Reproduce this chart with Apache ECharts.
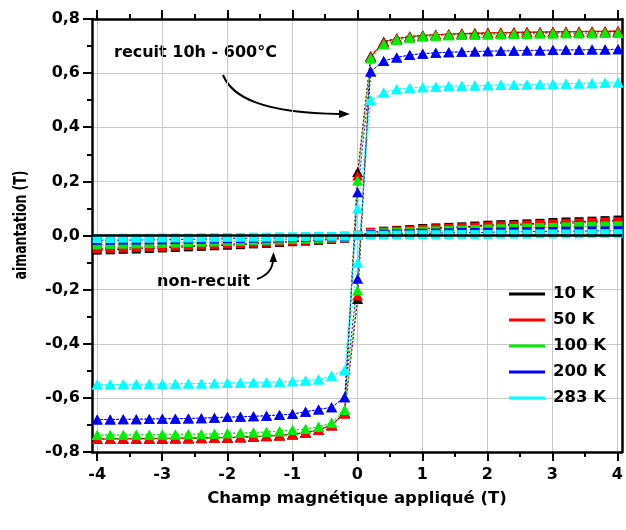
<!DOCTYPE html>
<html>
<head>
<meta charset="utf-8">
<script src="https://cdn.jsdelivr.net/npm/echarts@6/dist/echarts.min.js"></script>
<style>html,body{margin:0;padding:0;background:#fff}#c{width:626px;height:530px}</style>
</head>
<body>
<div id="c"></div>
<script>
// ---- data ----
const temps = ['10 K', '50 K', '100 K', '200 K', '283 K'];
const xNeg = [-4, -3.8, -3.6, -3.4, -3.2, -3, -2.8, -2.6, -2.4, -2.2, -2, -1.8, -1.6, -1.4, -1.2, -1, -0.8, -0.6, -0.4, -0.2];
const xPos = [0.2, 0.4, 0.6, 0.8, 1, 1.2, 1.4, 1.6, 1.8, 2, 2.2, 2.4, 2.6, 2.8, 3, 3.2, 3.4, 3.6, 3.8, 4];
const xTicks = [-4, -3, -2, -1, 0, 1, 2, 3, 4];

// annealed ("recuit 10h - 600°C"): negative-field branch, remanence at 0 T, positive-field branch
const recuitNeg10 = [-0.752, -0.752, -0.751, -0.751, -0.750, -0.750, -0.749, -0.749, -0.748, -0.747, -0.746, -0.745, -0.743, -0.741, -0.738, -0.734, -0.728, -0.718, -0.700, -0.655];
const recuitPos10 = [0.662, 0.716, 0.728, 0.735, 0.739, 0.742, 0.744, 0.746, 0.747, 0.748, 0.749, 0.750, 0.751, 0.751, 0.752, 0.752, 0.753, 0.753, 0.754, 0.754];
const recuitNeg50 = [-0.752, -0.752, -0.751, -0.751, -0.751, -0.750, -0.750, -0.749, -0.749, -0.748, -0.747, -0.746, -0.744, -0.742, -0.739, -0.735, -0.729, -0.719, -0.702, -0.658];
const recuitPos50 = [0.660, 0.714, 0.727, 0.735, 0.739, 0.742, 0.744, 0.746, 0.748, 0.749, 0.750, 0.751, 0.752, 0.752, 0.753, 0.754, 0.754, 0.755, 0.755, 0.756];
const recuitNeg100 = [-0.737, -0.737, -0.737, -0.736, -0.736, -0.735, -0.735, -0.734, -0.734, -0.733, -0.731, -0.730, -0.728, -0.726, -0.723, -0.719, -0.715, -0.707, -0.692, -0.645];
const recuitPos100 = [0.655, 0.707, 0.722, 0.731, 0.735, 0.738, 0.740, 0.741, 0.742, 0.743, 0.744, 0.745, 0.745, 0.746, 0.746, 0.747, 0.747, 0.747, 0.748, 0.748];
const recuitNeg200 = [-0.680, -0.680, -0.679, -0.679, -0.678, -0.677, -0.677, -0.676, -0.675, -0.673, -0.671, -0.670, -0.668, -0.666, -0.663, -0.660, -0.651, -0.643, -0.635, -0.598];
const recuitPos200 = [0.606, 0.645, 0.658, 0.667, 0.672, 0.675, 0.677, 0.679, 0.680, 0.681, 0.682, 0.683, 0.684, 0.684, 0.685, 0.686, 0.686, 0.687, 0.687, 0.688];
const recuitNeg283 = [-0.551, -0.551, -0.550, -0.550, -0.549, -0.549, -0.548, -0.547, -0.547, -0.546, -0.545, -0.544, -0.543, -0.542, -0.541, -0.539, -0.536, -0.532, -0.518, -0.498];
const recuitPos283 = [0.500, 0.528, 0.540, 0.545, 0.548, 0.550, 0.552, 0.553, 0.554, 0.555, 0.556, 0.557, 0.558, 0.559, 0.560, 0.561, 0.562, 0.563, 0.564, 0.565];
const remanence = [0.235, 0.222, 0.203, 0.160, 0.100];

// non-annealed ("non-recuit"), x = -4 ... 4 step 0.2
const nonRecuit10 = [-0.054, -0.053, -0.051, -0.050, -0.048, -0.046, -0.044, -0.042, -0.040, -0.038, -0.036, -0.034, -0.031, -0.029, -0.026, -0.023, -0.021, -0.018, -0.015, -0.010, 0.001, 0.012, 0.016, 0.019, 0.022, 0.026, 0.028, 0.030, 0.032, 0.035, 0.038, 0.040, 0.041, 0.043, 0.045, 0.048, 0.050, 0.051, 0.053, 0.055, 0.057];
const nonRecuit50 = [-0.048, -0.047, -0.046, -0.044, -0.043, -0.041, -0.039, -0.037, -0.035, -0.033, -0.031, -0.030, -0.027, -0.025, -0.023, -0.020, -0.018, -0.016, -0.013, -0.009, 0.000, 0.011, 0.014, 0.017, 0.020, 0.023, 0.025, 0.027, 0.029, 0.031, 0.034, 0.036, 0.037, 0.039, 0.041, 0.043, 0.045, 0.046, 0.048, 0.050, 0.051];
const nonRecuit100 = [-0.034, -0.033, -0.032, -0.031, -0.030, -0.029, -0.028, -0.026, -0.025, -0.024, -0.022, -0.021, -0.019, -0.018, -0.016, -0.014, -0.013, -0.011, -0.009, -0.006, 0.000, 0.007, 0.010, 0.012, 0.014, 0.016, 0.017, 0.019, 0.020, 0.022, 0.024, 0.025, 0.026, 0.028, 0.029, 0.030, 0.032, 0.033, 0.034, 0.035, 0.036];
const nonRecuit200 = [-0.018, -0.018, -0.017, -0.017, -0.016, -0.016, -0.015, -0.014, -0.014, -0.013, -0.012, -0.011, -0.010, -0.010, -0.009, -0.008, -0.007, -0.006, -0.005, -0.003, 0.000, 0.004, 0.005, 0.006, 0.007, 0.008, 0.009, 0.010, 0.011, 0.011, 0.012, 0.013, 0.014, 0.014, 0.015, 0.015, 0.016, 0.016, 0.017, 0.017, 0.018];
const nonRecuit283 = [-0.011, -0.011, -0.010, -0.010, -0.010, -0.009, -0.009, -0.009, -0.008, -0.008, -0.007, -0.007, -0.006, -0.006, -0.005, -0.005, -0.004, -0.003, -0.003, -0.002, 0.000, 0.001, 0.001, 0.002, 0.002, 0.003, 0.003, 0.003, 0.004, 0.004, 0.004, 0.005, 0.005, 0.005, 0.006, 0.006, 0.006, 0.006, 0.007, 0.007, 0.007];

// ---- build ----
const colors = ['#000000', '#ff0000', '#00ee00', '#0000ff', '#00ffff'];
const recuitNeg = [recuitNeg10, recuitNeg50, recuitNeg100, recuitNeg200, recuitNeg283];
const recuitPos = [recuitPos10, recuitPos50, recuitPos100, recuitPos200, recuitPos283];
const nonRecuit = [nonRecuit10, nonRecuit50, nonRecuit100, nonRecuit200, nonRecuit283];
const xAll = xNeg.concat([0], xPos);

function loop(i) {
  const up = xNeg.map((x, k) => [x, recuitNeg[i][k]])
    .concat([[0, -remanence[i]]])
    .concat(xPos.map((x, k) => [x, recuitPos[i][k]]));
  const down = xPos.map((x, k) => [x, recuitPos[i][k]]).reverse()
    .concat([[0, remanence[i]]])
    .concat(xNeg.map((x, k) => [x, recuitNeg[i][k]]).reverse());
  return up.concat(down);
}

const FONT = 'DejaVu Sans';
const series = [];
temps.forEach((t, i) => {
  const s = {
    name: t, type: 'line', xAxisIndex: 0, yAxisIndex: 0, z: 3,
    data: loop(i), symbol: 'triangle', symbolSize: [11, 10],
    itemStyle: { color: colors[i] },
    lineStyle: { color: colors[i], width: 1, type: [2, 2] },
    animation: false, silent: true
  };
  series.push(s);
});
temps.forEach((t, i) => {
  const s = {
    name: t, type: 'line', xAxisIndex: 0, yAxisIndex: 0, z: 4,
    data: xAll.map((x, k) => [x, nonRecuit[i][k]]),
    symbol: 'rect', symbolSize: 9,
    itemStyle: { color: colors[i] },
    lineStyle: { color: colors[i], width: 1, type: [2, 2] },
    animation: false, silent: true
  };
  series.push(s);
});
// zero reference line, drawn beneath the data
series.unshift({
  type: 'line', xAxisIndex: 0, yAxisIndex: 0, z: 1, data: [], silent: true,
  markLine: {
    silent: true, symbol: 'none', label: { show: false },
    lineStyle: { color: '#000', width: 2.5, type: 'solid' },
    data: [{ yAxis: 0 }], animation: false
  }
});

const tickLabelStyle = { fontFamily: FONT, fontWeight: 'bold', fontSize: 16, color: '#000' };
const gridLineStyle = { color: '#c8c8c8', width: 1 };
const frameLine = { show: true, lineStyle: { color: '#000', width: 2.5 } };

const option = {
  backgroundColor: '#fff',
  animation: false,
  grid: [
    { left: 92, right: 4, top: 19, bottom: 78 },
    { left: 97.2, right: 7.9, top: 19, bottom: 78 }
  ],
  xAxis: [
    { gridIndex: 0, type: 'value', min: -4.08, max: 4.06, position: 'bottom',
      axisLine: Object.assign({ onZero: false }, frameLine), axisTick: { show: false }, axisLabel: { show: false }, splitLine: { show: false } },
    { gridIndex: 0, type: 'value', min: -4.08, max: 4.06, position: 'top',
      axisLine: Object.assign({ onZero: false }, frameLine), axisTick: { show: false }, axisLabel: { show: false }, splitLine: { show: false } },
    { gridIndex: 1, type: 'value', min: xTicks[0], max: xTicks[xTicks.length - 1], interval: 1, position: 'bottom',
      axisLine: { show: false, onZero: false },
      axisTick: { show: true, inside: false, length: 9, lineStyle: { color: '#000', width: 2 } },
      minorTick: { show: true, splitNumber: 2, length: 5, lineStyle: { color: '#000', width: 2 } },
      axisLabel: Object.assign({ margin: 15 }, tickLabelStyle),
      splitLine: { show: true, lineStyle: gridLineStyle } },
    { gridIndex: 1, type: 'value', min: xTicks[0], max: xTicks[xTicks.length - 1], interval: 1, position: 'top',
      axisLine: { show: false, onZero: false },
      axisTick: { show: true, inside: false, length: 9, lineStyle: { color: '#000', width: 2 } },
      minorTick: { show: true, splitNumber: 2, length: 5, lineStyle: { color: '#000', width: 2 } },
      axisLabel: { show: false }, splitLine: { show: false } }
  ],
  yAxis: [
    { gridIndex: 0, type: 'value', min: -0.8, max: 0.8, interval: 0.2, position: 'left',
      axisLine: Object.assign({ onZero: false }, frameLine),
      axisTick: { show: true, inside: false, length: 9, lineStyle: { color: '#000', width: 2 } },
      minorTick: { show: true, splitNumber: 2, length: 5, lineStyle: { color: '#000', width: 2 } },
      axisLabel: Object.assign({ margin: 12, formatter: v => v.toFixed(1).replace('.', ',') }, tickLabelStyle),
      splitLine: { show: true, lineStyle: gridLineStyle } },
    { gridIndex: 0, type: 'value', min: -0.8, max: 0.8, position: 'right',
      axisLine: Object.assign({ onZero: false }, frameLine), axisTick: { show: false }, axisLabel: { show: false }, splitLine: { show: false } },
    { gridIndex: 1, type: 'value', min: -0.8, max: 0.8, show: false }
  ],
  legend: {
    data: temps.map(n => ({ name: n, icon: 'rect' })),
    orient: 'vertical', left: 504, top: 279,
    itemWidth: 36, itemHeight: 3, itemGap: 6,
    selectedMode: false,
    textStyle: { fontFamily: FONT, fontWeight: 'bold', fontSize: 16.5, color: '#000', lineHeight: 20, padding: [0, 0, 0, 3] }
  },
  graphic: [
    { type: 'text', x: 21, y: 225, rotation: Math.PI / 2, scaleX: 0.71, silent: true,
      style: { text: 'aimantation (T)', font: 'bold 17.5px "DejaVu Sans"', fill: '#000', align: 'center', verticalAlign: 'middle' } },
    { type: 'text', x: 357, y: 499, silent: true,
      style: { text: 'Champ magnétique appliqué (T)', font: 'bold 16.5px "DejaVu Sans"', fill: '#000', align: 'center', verticalAlign: 'middle' } },
    { type: 'text', x: 114, y: 53, silent: true,
      style: { text: 'recuit 10h - 600°C', font: 'bold 16px "DejaVu Sans"', fill: '#000', align: 'left', verticalAlign: 'middle' } },
    { type: 'text', x: 157, y: 282, silent: true,
      style: { text: 'non-recuit', font: 'bold 16px "DejaVu Sans"', fill: '#000', align: 'left', verticalAlign: 'middle' } },
    { type: 'bezierCurve', silent: true,
      shape: { x1: 223, y1: 75, cpx1: 232, cpy1: 97, cpx2: 262, cpy2: 113, x2: 340, y2: 114 },
      style: { stroke: '#000', lineWidth: 2, fill: null } },
    { type: 'polygon', silent: true,
      shape: { points: [[350, 114], [339, 110], [339, 118]] }, style: { fill: '#000' } },
    { type: 'bezierCurve', silent: true,
      shape: { x1: 257, y1: 279, cpx1: 266, cpy1: 276, cpx2: 272, cpy2: 270, x2: 273, y2: 261 },
      style: { stroke: '#000', lineWidth: 2, fill: null } },
    { type: 'polygon', silent: true,
      shape: { points: [[273.5, 252], [269.5, 262], [277, 262]] }, style: { fill: '#000' } }
  ],
  series: series
};

const chart = echarts.init(document.getElementById('c'), null, { renderer: 'canvas' });
chart.setOption(option);
</script>
</body>
</html>
